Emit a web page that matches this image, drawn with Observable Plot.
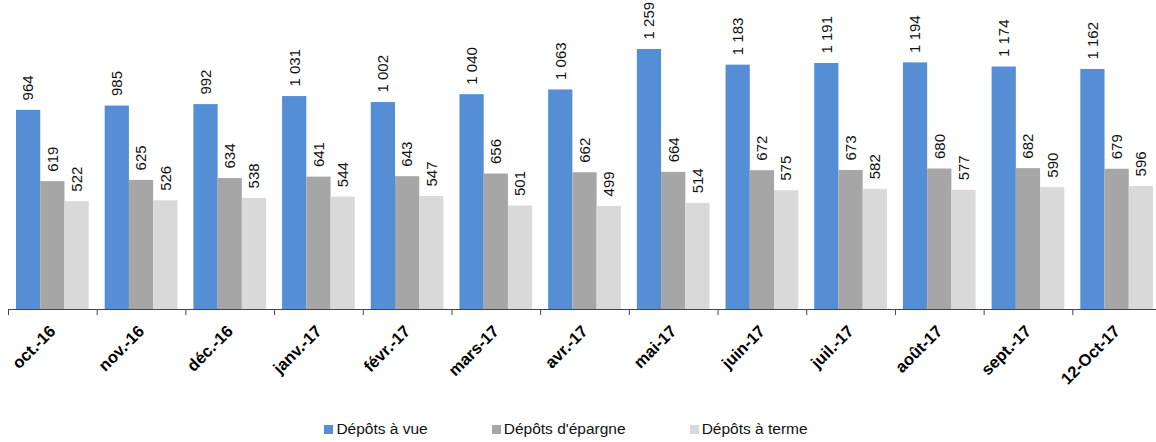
<!DOCTYPE html>
<html>
<head>
<meta charset="utf-8">
<script src="https://cdn.jsdelivr.net/npm/d3@7"></script>
<script src="https://cdn.jsdelivr.net/npm/@observablehq/plot@0.6"></script>
<style>
  html, body { margin: 0; padding: 0; background: #fff; overflow: hidden; }
  body { font-family: "Liberation Sans", Arial, sans-serif; width: 1156px; }
  #chart svg { max-width: none !important; }
  #legend { display: flex; justify-content: center; gap: 64px; font-size: 15.5px; color: #111; margin-top: 15px; padding-right: 24px; }
  #legend .item { display: flex; align-items: center; }
  #legend .sw { width: 9px; height: 9px; margin-right: 3px; }
</style>
</head>
<body>
<div id="chart"></div>
<div id="legend"></div>
<script>
const months = ["oct.-16", "nov.-16", "déc.-16", "janv.-17", "févr.-17", "mars-17", "avr.-17", "mai-17", "juin-17", "juil.-17", "août-17", "sept.-17", "12-Oct-17"];
const seriesNames = ["Dépôts à vue", "Dépôts d'épargne", "Dépôts à terme"];
const seriesColors = ["#558ED5", "#A6A6A6", "#D9D9D9"];
const depotsVue = [964, 985, 992, 1031, 1002, 1040, 1063, 1259, 1183, 1191, 1194, 1174, 1162];
const depotsEpargne = [619, 625, 634, 641, 643, 656, 662, 664, 672, 673, 680, 682, 679];
const depotsTerme = [522, 526, 538, 544, 547, 501, 499, 514, 575, 582, 577, 590, 596];

const valuesBySeries = [depotsVue, depotsEpargne, depotsTerme];
const data = [];
months.forEach((m, i) => {
  seriesNames.forEach((s, j) => data.push({month: m, series: s, value: valuesBySeries[j][i]}));
});

const fmt = d3.formatLocale({decimal: ",", thousands: " ", grouping: [3], currency: ["", ""]}).format(",d");

const width = 1161, marginLeft = 8, marginRight = 0;
const step = (width - marginLeft - marginRight) / months.length;

const chart = Plot.plot({
  width,
  height: 405,
  marginTop: 0,
  marginLeft,
  marginRight,
  marginBottom: 96,
  style: {fontFamily: "'Liberation Sans', Arial, sans-serif", background: "#fff"},
  fx: {domain: months, padding: 0, round: false, axis: null, label: null},
  x: {domain: seriesNames, paddingInner: 0, paddingOuter: 0.33, round: false, axis: null, label: null},
  y: {domain: [0, 1496], axis: null},
  color: {domain: seriesNames, range: seriesColors},
  marks: [
    Plot.barY(data, {fx: "month", x: "series", y: "value", fill: "series", inset: 0}),
    Plot.text(data, {fx: "month", x: "series", y: "value", text: d => fmt(d.value), rotate: -90, textAnchor: "start", lineAnchor: "middle", dy: -10, fontSize: 15, fill: "#111"}),
    Plot.ruleY([0], {stroke: "#444", strokeWidth: 1.2}),
    Plot.axisFx({anchor: "bottom", tickSize: 6, tickFormat: () => "", dx: -step / 2, stroke: "#444", label: null}),
    Plot.axisFx({anchor: "bottom", tickSize: 0, tickRotate: -45, tickPadding: 19, fontSize: 16.5, fontWeight: "bold", fill: "#000", label: null})
  ]
});
chart.style.maxWidth = "none";
document.getElementById("chart").appendChild(chart);

const legend = document.getElementById("legend");
seriesNames.forEach((s, i) => {
  const item = document.createElement("div");
  item.className = "item";
  const sw = document.createElement("span");
  sw.className = "sw";
  sw.style.background = seriesColors[i];
  const t = document.createElement("span");
  t.textContent = s;
  item.appendChild(sw);
  item.appendChild(t);
  legend.appendChild(item);
});
</script>
</body>
</html>
